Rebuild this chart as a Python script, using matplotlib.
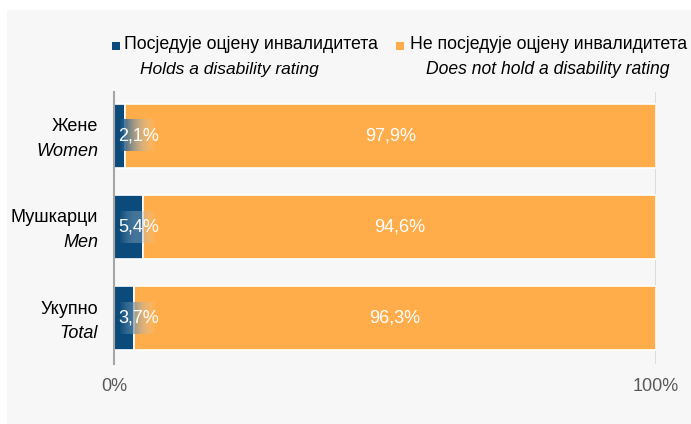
import numpy as np
import matplotlib
matplotlib.use("Agg")
import matplotlib.pyplot as plt
from matplotlib.patches import Rectangle
from matplotlib.colors import to_rgb

categories_sr = ["Жене", "Мушкарци", "Укупно"]
categories_en = ["Women", "Men", "Total"]
holds = [2.1, 5.4, 3.7]
not_holds = [97.9, 94.6, 96.3]
series_sr = ["Посједује оцјену инвалидитета", "Не посједује оцјену инвалидитета"]
series_en = ["Holds a disability rating", "Does not hold a disability rating"]
tick_labels = ["0%", "100%"]

NAVY = "#0B4B7C"
ORANGE = "#FFAD4A"
BG = "#F7F7F7"
FONT = ["Liberation Sans Narrow", "Liberation Sans", "DejaVu Sans"]
plt.rcParams["font.family"] = FONT

W, H = 691, 424
fig = plt.figure(figsize=(W / 100, H / 100), dpi=100)
fig.patch.set_facecolor("white")
fig.patches.append(Rectangle((7 / W, 0), 1, 1 - 10 / H, transform=fig.transFigure,
                             facecolor=BG, edgecolor="none", zorder=-10))

FS = 13.0
ax = fig.add_axes([114 / W, 1 - 364 / H, (656 - 114) / W, (364 - 92) / H])
ax.set_facecolor("none")
y = np.arange(len(categories_sr))
bh = 0.70
ax.barh(y, holds, height=bh, color=NAVY, edgecolor="white", linewidth=1.2, zorder=3)
ax.barh(y, not_holds, left=holds, height=bh, color=ORANGE, edgecolor="white", linewidth=1.2, zorder=3)

ax.axvline(100, color="#D9D9D9", linewidth=2, zorder=1)
for s in ["top", "right", "bottom"]:
    ax.spines[s].set_visible(False)
ax.spines["left"].set_color("#A6A6A6")
ax.spines["left"].set_linewidth(1.5)
ax.spines["left"].set_zorder(4)

ax.set_xticks([0, 100])
ax.set_xticklabels(tick_labels, fontsize=FS, color="#595959")
ax.tick_params(axis="x", length=0, pad=10)
ax.set_yticks([])

# category labels
for i in range(len(categories_sr)):
    ax.annotate(categories_sr[i], xy=(0, y[i]), xycoords=("axes fraction", "data"),
                xytext=(-11.5, 6.6), textcoords="offset points", ha="right", va="center",
                fontsize=FS, color="#000000")
    ax.annotate(categories_en[i], xy=(0, y[i]), xycoords=("axes fraction", "data"),
                xytext=(-11.5, -11.0), textcoords="offset points", ha="right", va="center",
                fontsize=FS, style="italic", color="#000000")

# gradient boxes behind navy labels
n = 64
grad = np.zeros((1, n, 4))
nav = np.array(to_rgb(NAVY))
wht = np.array([0.95, 0.95, 0.95])
t = np.linspace(0, 1, n)
for k in range(3):
    grad[0, :, k] = nav[k] * (1 - t) + wht[k] * t
grad[0, :, 3] = np.clip(1.2 * (1 - t), 0, 1) * 0.85
for i in range(len(holds)):
    ax.imshow(grad, extent=(1.0, 7.9, y[i] + 0.17, y[i] - 0.17), aspect="auto",
              zorder=4, interpolation="bilinear")
    ax.text(0.8, y[i], f"{holds[i]:.1f}%".replace(".", ","), ha="left", va="center",
            fontsize=FS, color="white", zorder=5)
    ax.text(holds[i] + not_holds[i] / 2, y[i], f"{not_holds[i]:.1f}%".replace(".", ","),
            ha="center", va="center", fontsize=FS, color="white", zorder=5)
ax.set_xlim(0, 100)
ax.set_ylim(2.5, -0.48)

# legend
leg_items = [(112, NAVY, 124, 140), (396, ORANGE, 410, 426)]
leg_texts = []
for (mx, col, tx, ix), s_sr, s_en in zip(leg_items, series_sr, series_en):
    fig.patches.append(Rectangle((mx / W, 1 - 50 / H), 8 / W, 8 / H, transform=fig.transFigure,
                                 facecolor=col, edgecolor="none"))
    leg_texts.append(fig.text(tx / W, 1 - 44.5 / H, s_sr, ha="left", va="center", fontsize=FS,
                              color="#000000"))
    leg_texts.append(fig.text(ix / W, 1 - 69.5 / H, s_en, ha="left", va="center", fontsize=FS,
                              style="italic", color="#000000"))

# fit legend text widths to the reference layout
targets = [254, 178, 276, 243]
fig.canvas.draw()
r = fig.canvas.get_renderer()
for tt, tw in zip(leg_texts, targets):
    w = tt.get_window_extent(r).width
    tt.set_fontsize(FS * tw / w)

fig.savefig("out.png", dpi=100, facecolor=fig.get_facecolor())
